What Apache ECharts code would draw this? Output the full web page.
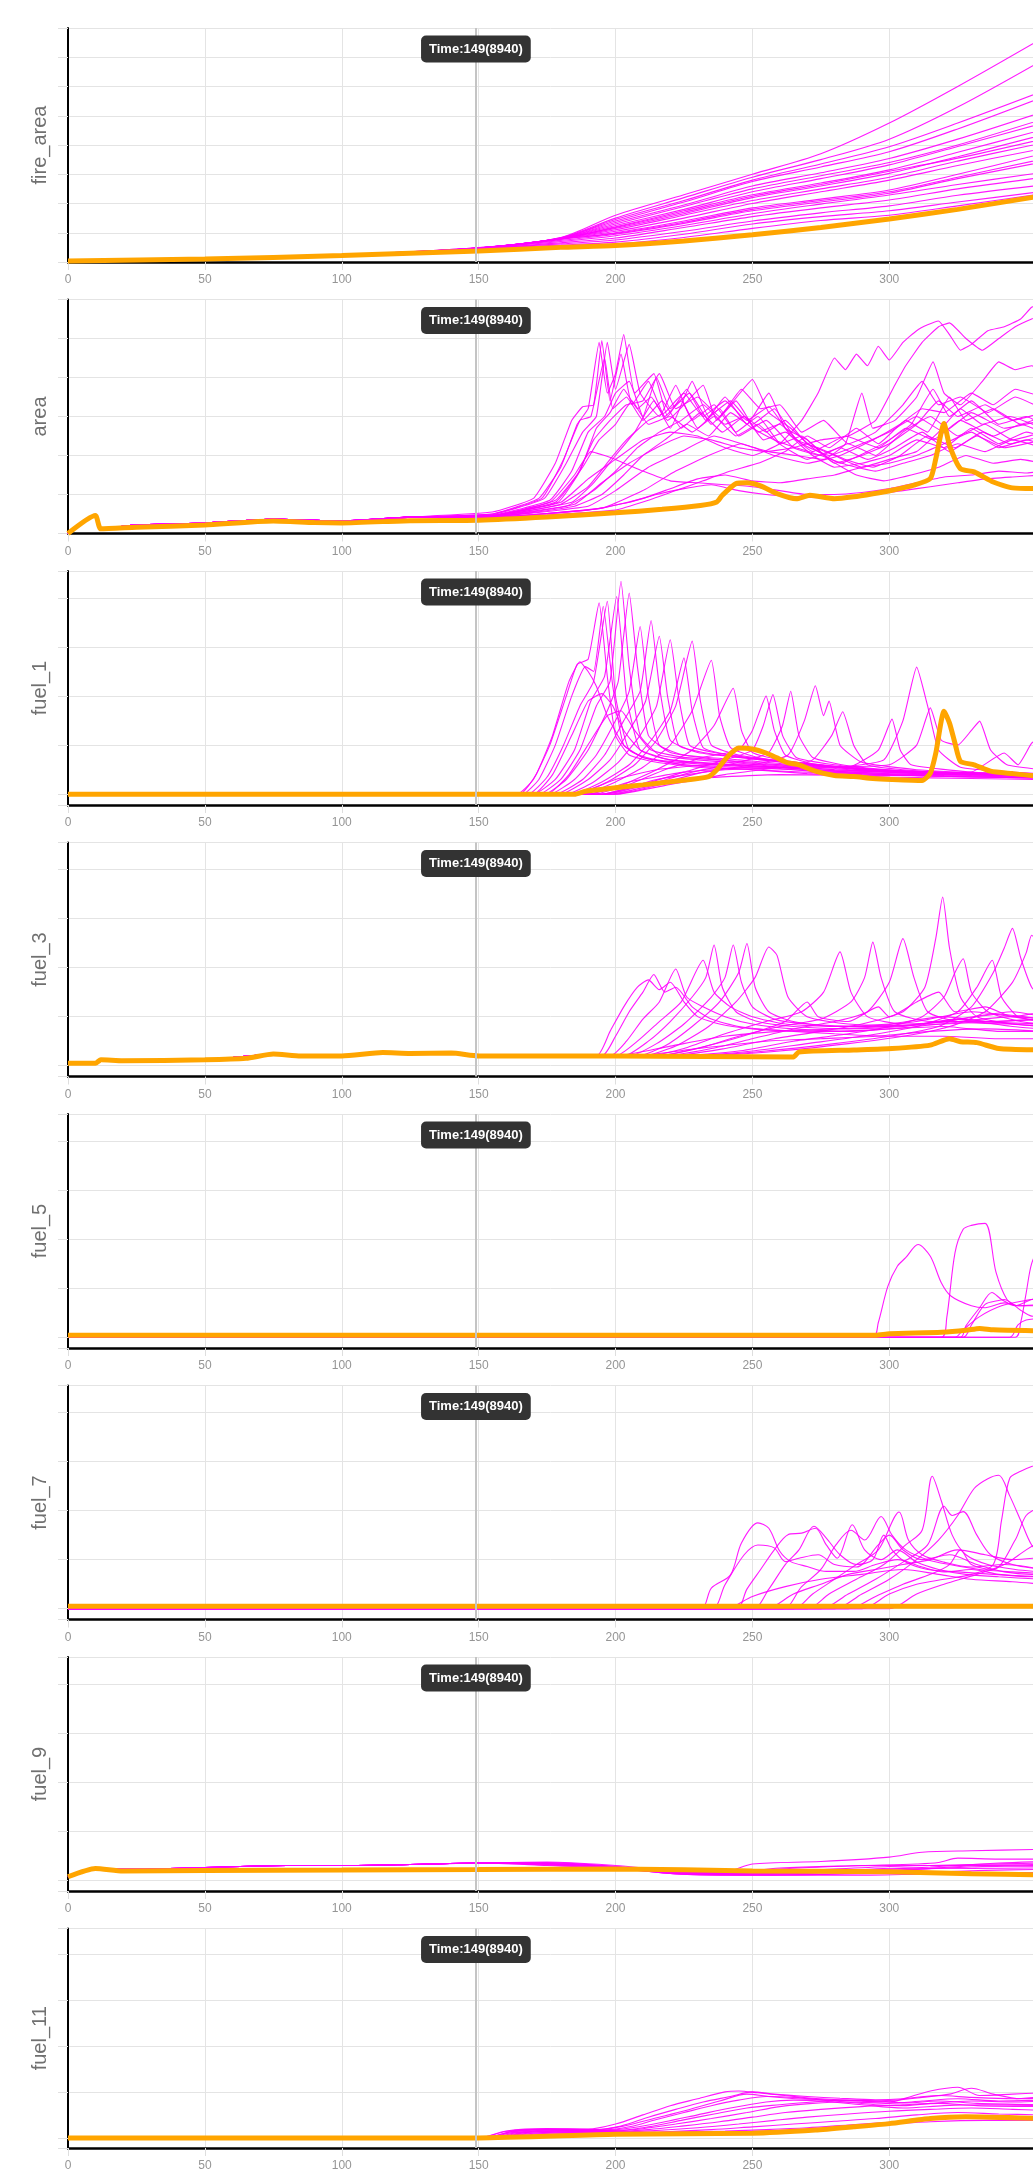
<!DOCTYPE html>
<html>
<head>
<meta charset="utf-8">
<script src="https://cdn.jsdelivr.net/npm/echarts@6/dist/echarts.min.js"></script>
<style>
html,body{margin:0;padding:0;background:#fff;overflow:hidden;}
#chart{width:1033px;height:2172px;}
</style>
</head>
<body>
<div id="chart"></div>
<script>
// ---------- labels & axes ----------
const TITLES = ['fire_area','area','fuel_1','fuel_3','fuel_5','fuel_7','fuel_9','fuel_11'];
const Y_MIN = [0, 0, -0.22, -0.22, -0.22, -0.22, -0.22, -0.22];
const Y_MAX = [8, 6, 4.55, 4.55, 4.55, 4.55, 4.55, 4.55];
const Y_SPLIT = [8, 6, 5, 5, 5, 5, 5, 5];
const X_TICKS = [0, 50, 100, 150, 200, 250, 300];
const X_MAX = 352.5;
const MARK_TIME = 149;
const MARK_LABEL = 'Time:149(8940)';

// ---------- fire_area ----------
const fireAreaT = [0,50,100,150,180,200,225,250,275,300,325,355];
const fireAreaBase = [0.03,0.1,0.22,0.38,0.5,0.56,0.72,0.93,1.18,1.47,1.8,2.25];
const fireAreaRuns = [
 [0.02,0.11,0.24,0.49,0.84,1.6,2.3,3.0,3.7,4.75,6.0,7.6],
 [0.02,0.11,0.24,0.49,0.83,1.5,2.2,2.9,3.5,4.2,5.3,6.85],
 [0.02,0.11,0.24,0.48,0.82,1.45,2.1,2.8,3.35,3.94,4.75,5.8],
 [0.02,0.11,0.24,0.48,0.82,1.4,2.05,2.75,3.25,3.77,4.55,5.6],
 [0.02,0.11,0.24,0.48,0.81,1.35,1.95,2.6,3.05,3.54,4.2,5.1],
 [0.02,0.11,0.24,0.48,0.81,1.3,1.9,2.5,2.95,3.4,4.0,4.85],
 [0.02,0.11,0.24,0.48,0.8,1.25,1.8,2.4,2.85,3.32,3.95,4.72],
 [0.02,0.11,0.24,0.48,0.8,1.2,1.75,2.3,2.7,3.15,3.75,4.5],
 [0.02,0.11,0.24,0.48,0.8,1.15,1.65,2.2,2.6,3.03,3.6,4.32],
 [0.02,0.11,0.24,0.47,0.79,1.1,1.6,2.1,2.5,2.9,3.45,4.05],
 [0.02,0.11,0.24,0.47,0.79,1.05,1.5,2.0,2.4,2.8,3.3,3.86],
 [0.02,0.11,0.24,0.47,0.78,1.0,1.4,1.85,2.15,2.46,3.0,3.68],
 [0.02,0.11,0.24,0.47,0.74,0.95,1.32,1.75,2.05,2.35,2.85,3.4],
 [0.02,0.11,0.24,0.47,0.7,0.9,1.25,1.65,1.98,2.29,2.65,3.05],
 [0.02,0.11,0.24,0.46,0.66,0.82,1.18,1.55,1.85,2.12,2.5,2.88],
 [0.02,0.11,0.24,0.46,0.62,0.75,1.05,1.4,1.68,1.92,2.28,2.62],
 [0.02,0.11,0.24,0.46,0.58,0.68,0.95,1.3,1.55,1.75,2.05,2.4],
 [0.02,0.11,0.24,0.46,0.55,0.62,0.84,1.15,1.42,1.6,1.92,2.32],
 [0.02,0.11,0.24,0.48,0.8,1.18,1.7,2.25,2.65,3.1,3.55,4.18],
 [0.02,0.11,0.24,0.47,0.78,0.98,1.36,1.8,2.1,2.4,2.9,3.5]
];

// ---------- area ----------
const areaBase = [[0,0],[10,0.46],[12,0.12],[25,0.16],[50,0.22],[75,0.32],[90,0.28],[100,0.27],[125,0.33],[150,0.34],[175,0.42],[200,0.53],[217,0.62],[231,0.72],[237,0.81],[239,0.98],[244,1.28],[248,1.3],[253,1.22],[259,1.02],[266,0.89],[271,0.98],[280,0.89],[287,0.94],[294,1.02],[301,1.11],[309,1.24],[315,1.41],[317,1.92],[320,2.82],[322,2.26],[326,1.66],[331,1.58],[338,1.32],[345,1.17],[356,1.15]];
const areaEarly = [[0,0],[10,0.46],[12,0.12],[25,0.22],[50,0.27],[75,0.37],[100,0.32],[125,0.42]];
const areaRuns = [
 [[155,0.55],[170,0.9],[178,1.8],[184,2.9],[188,3.25],[192,3.3],[195,4.95],[198,3.4],[202,4.6],[206,3.3],[212,3.9],[218,3.0],[224,3.4],[230,2.7],[238,3.2],[245,2.5],[255,2.9],[265,2.2],[275,2.0],[285,2.3],[295,2.0],[305,2.6],[315,3.0],[325,2.5],[335,2.8],[345,2.4],[356,2.6]],
 [[155,0.5],[172,0.9],[180,1.7],[186,2.8],[190,3.2],[194,4.9],[197,3.6],[200,4.1],[203,5.1],[207,3.6],[214,4.1],[219,3.0],[226,3.7],[233,2.9],[240,3.5],[248,2.8],[256,3.6],[262,2.7],[270,2.4],[280,1.8],[290,2.0],[300,2.3],[310,2.8],[318,3.4],[325,3.0],[335,3.3],[345,2.9],[356,3.1]],
 [[155,0.48],[174,0.9],[182,1.8],[188,2.6],[193,3.0],[197,4.9],[200,3.7],[205,4.85],[209,3.6],[216,3.0],[222,3.8],[228,2.9],[236,3.3],[244,2.6],[252,3.0],[260,2.3],[270,1.9],[282,2.2],[292,1.9],[302,2.2],[312,2.6],[322,2.1],[332,2.5],[342,2.2],[356,2.4]],
 [[155,0.47],[176,0.85],[184,1.6],[190,2.6],[196,3.0],[200,3.6],[205,3.9],[210,3.0],[215,4.0],[220,3.2],[227,3.6],[235,2.8],[242,3.3],[250,3.95],[256,3.1],[264,2.7],[272,2.2],[282,1.8],[292,2.1],[300,2.4],[308,2.8],[316,3.7],[322,3.0],[330,3.4],[340,2.8],[350,3.0],[356,2.8]],
 [[155,0.45],[178,0.8],[186,1.5],[192,2.4],[198,2.9],[204,3.3],[210,3.4],[216,4.1],[222,3.2],[230,3.5],[238,3.0],[246,3.7],[253,3.2],[260,3.3],[268,2.6],[276,2.9],[285,2.3],[295,2.6],[305,3.3],[312,3.9],[318,3.3],[326,3.5],[336,3.1],[346,3.5],[356,3.2]],
 [[155,0.44],[180,0.75],[190,1.2],[198,1.9],[204,2.4],[212,2.9],[218,3.1],[225,3.6],[232,3.0],[240,3.4],[248,2.9],[256,3.25],[264,2.5],[272,2.0],[280,1.7],[290,1.8],[300,2.0],[310,2.4],[320,2.2],[330,2.7],[340,2.3],[350,2.6],[356,2.5]],
 [[155,0.43],[182,0.7],[192,1.1],[200,1.6],[208,2.2],[216,2.6],[224,2.9],[232,3.3],[240,2.8],[247,3.0],[255,2.6],[262,2.9],[270,2.3],[280,2.0],[290,1.7],[300,1.9],[310,2.1],[318,2.6],[326,3.2],[334,2.8],[344,3.0],[356,2.7]],
 [[155,0.42],[185,0.7],[195,1.0],[203,1.5],[210,2.0],[218,2.4],[226,2.8],[234,2.5],[242,3.1],[250,2.7],[258,2.4],[266,2.2],[275,2.0],[285,1.75],[295,1.6],[305,1.8],[315,2.0],[325,2.3],[335,2.1],[345,2.4],[356,2.2]],
 [[155,0.45],[176,0.8],[185,1.5],[191,2.1],[200,1.9],[210,1.6],[220,1.35],[230,1.3],[240,1.25],[250,1.2],[260,1.1],[270,1.0],[280,1.0],[290,1.05],[300,1.15],[310,1.3],[320,1.45],[330,1.5],[340,1.6],[350,1.55],[356,1.6]],
 [[155,0.42],[190,0.6],[205,0.8],[215,1.0],[225,1.15],[235,1.25],[245,1.1],[255,1.0],[265,0.95],[275,0.92],[285,0.95],[295,1.0],[305,1.1],[315,1.2],[325,1.3],[335,1.4],[345,1.45],[356,1.5]],
 [[155,0.4],[195,0.65],[210,0.9],[220,1.15],[230,1.4],[240,1.5],[250,1.35],[260,1.3],[270,1.4],[280,1.5],[290,1.7],[300,1.8],[310,2.0],[320,2.3],[330,2.6],[340,2.2],[350,2.4],[356,2.3]],
 [[155,0.4],[200,0.6],[212,0.85],[222,1.1],[232,1.35],[242,1.6],[252,1.8],[262,2.1],[270,2.5],[278,2.2],[288,2.7],[296,2.3],[306,2.9],[314,2.6],[322,3.5],[328,2.9],[338,3.2],[348,2.8],[356,3.0]],
 [[155,0.45],[180,0.8],[190,1.4],[200,1.9],[210,2.4],[220,2.6],[230,2.5],[240,2.2],[250,2.0],[260,2.3],[268,2.9],[274,3.6],[280,4.5],[284,4.2],[288,4.6],[292,4.3],[296,4.8],[300,4.45],[305,4.9],[310,5.2],[314,5.35],[318,5.45],[322,5.1],[326,4.7],[330,4.85],[336,5.2],[342,5.3],[348,5.5],[352,5.8],[356,5.9]],
 [[155,0.44],[185,0.75],[195,1.3],[205,1.8],[215,2.2],[225,2.5],[235,2.4],[245,2.2],[255,2.1],[265,2.2],[275,2.4],[285,2.5],[295,2.9],[302,3.8],[306,4.3],[312,4.9],[318,5.3],[322,5.4],[328,5.0],[334,4.7],[340,5.0],[346,5.3],[352,5.5],[356,5.6]],
 [[155,0.43],[190,0.7],[200,1.1],[212,1.7],[224,2.1],[236,2.5],[246,2.3],[256,2.1],[266,2.0],[276,1.9],[284,2.3],[290,3.6],[294,2.7],[302,2.9],[310,3.5],[316,4.4],[320,3.6],[326,3.3],[334,3.9],[340,4.4],[346,4.2],[352,4.3],[356,4.2]],
 [[155,0.42],[195,0.65],[210,1.1],[222,1.6],[234,2.0],[246,2.3],[258,2.0],[270,1.8],[282,2.0],[294,2.4],[304,2.8],[312,3.2],[320,3.1],[330,3.6],[338,3.3],[346,3.7],[356,3.5]],
 [[155,0.46],[178,0.85],[188,1.7],[194,2.4],[200,2.8],[206,3.4],[212,2.8],[220,3.0],[228,2.6],[236,3.0],[244,2.5],[252,2.8],[260,2.3],[268,2.5],[278,1.9],[288,1.5],[298,1.35],[308,1.5],[318,1.7],[328,2.0],[338,1.8],[348,1.9],[356,1.8]],
 [[155,0.44],[184,0.8],[192,1.3],[200,2.0],[207,2.6],[214,3.4],[220,2.7],[228,3.9],[234,3.0],[242,3.4],[250,2.8],[258,3.2],[266,2.4],[274,2.2],[284,1.9],[294,1.7],[304,2.0],[314,2.5],[324,2.2],[334,2.6],[344,2.3],[356,2.5]],
 [[155,0.5],[173,0.9],[181,1.9],[187,2.9],[191,3.0],[196,4.5],[199,3.2],[204,3.5],[210,2.9],[217,3.4],[224,2.7],[231,3.1],[239,2.6],[247,3.0],[254,2.4],[262,2.6],[272,2.1],[284,2.5],[296,2.2],[306,2.7],[316,2.4],[326,2.9],[338,2.5],[348,2.8],[356,2.6]],
 [[155,0.46],[179,0.8],[187,1.6],[193,2.7],[198,3.1],[203,3.7],[208,3.2],[213,3.5],[219,2.9],[225,3.3],[232,3.8],[237,2.9],[244,3.4],[252,2.6],[260,2.8],[268,2.3],[278,2.0],[290,2.3],[300,2.6],[310,3.0],[320,2.6],[330,3.1],[342,2.7],[356,2.9]]
];

// ---------- fuel_1 ----------
const fuel1Base = [[0,0],[185,0],[189,0.06],[200,0.13],[210,0.19],[224,0.28],[234,0.36],[237,0.5],[241,0.77],[245,0.94],[250,0.92],[255,0.84],[259,0.74],[263,0.64],[267,0.6],[273,0.47],[280,0.38],[287,0.36],[294,0.32],[301,0.3],[312,0.28],[315,0.43],[317,0.84],[320,1.69],[322,1.45],[324,1.04],[326,0.67],[331,0.6],[337,0.47],[345,0.42],[352,0.38],[356,0.37]];
const fuel1Runs = [
 [[0,0],[164,0],[170,0.3],[176,1.0],[182,2.0],[186,2.65],[190,2.75],[194,3.9],[197,2.4],[200,1.2],[205,0.8],[215,0.65],[230,0.55],[250,0.5],[270,0.42],[300,0.35],[330,0.32],[356,0.3]],
 [[0,0],[166,0],[172,0.3],[178,1.0],[184,2.0],[189,2.6],[192,2.5],[195.5,3.83],[199,2.2],[203,1.0],[210,0.75],[225,0.6],[245,0.55],[265,0.5],[290,0.42],[320,0.36],[356,0.33]],
 [[0,0],[168,0],[175,0.35],[181,1.0],[187,1.8],[192,2.3],[197,3.93],[200,2.0],[205,0.9],[215,0.7],[235,0.6],[255,0.55],[275,0.45],[300,0.4],[330,0.35],[356,0.33]],
 [[0,0],[170,0],[178,0.3],[185,0.9],[191,1.9],[196,2.4],[200.4,4.03],[204,2.0],[209,0.9],[220,0.7],[240,0.6],[260,0.55],[285,0.45],[320,0.38],[356,0.35]],
 [[0,0],[172,0],[180,0.3],[187,0.9],[193,1.8],[198,2.3],[202,4.34],[205,2.6],[209,1.2],[216,0.8],[230,0.7],[248,0.62],[270,0.5],[300,0.42],[330,0.38],[356,0.36]],
 [[0,0],[174,0],[182,0.3],[190,0.9],[197,1.7],[201,2.3],[205,4.1],[208,2.6],[212,1.2],[220,0.85],[235,0.72],[255,0.6],[280,0.5],[310,0.42],[356,0.37]],
 [[0,0],[176,0],[185,0.3],[193,0.8],[200,1.5],[205,2.1],[209,3.42],[212,2.0],[216,1.0],[225,0.8],[245,0.7],[265,0.6],[290,0.48],[330,0.4],[356,0.38]],
 [[0,0],[178,0],[188,0.3],[196,0.8],[203,1.5],[209,2.1],[213,3.54],[216,2.2],[220,1.1],[230,0.85],[250,0.72],[270,0.6],[300,0.45],[356,0.4]],
 [[0,0],[180,0],[190,0.3],[198,0.7],[205,1.3],[211,1.9],[216,3.22],[219,2.0],[223,1.0],[232,0.85],[250,0.72],[275,0.58],[305,0.45],[356,0.4]],
 [[0,0],[182,0],[192,0.25],[201,0.65],[209,1.2],[215,1.8],[220,3.15],[223,2.0],[227,1.0],[236,0.85],[255,0.7],[280,0.55],[310,0.45],[356,0.4]],
 [[0,0],[184,0],[195,0.25],[205,0.6],[213,1.1],[220,1.7],[225,2.78],[228,1.7],[232,0.95],[242,0.8],[260,0.68],[285,0.55],[320,0.42],[356,0.4]],
 [[0,0],[185,0],[197,0.25],[207,0.6],[215,1.1],[222,1.8],[228,3.12],[231,1.9],[235,1.0],[245,0.8],[265,0.65],[290,0.52],[330,0.42],[356,0.4]],
 [[0,0],[188,0],[200,0.25],[210,0.55],[220,1.0],[228,1.7],[235,2.73],[238,1.6],[242,0.95],[252,0.75],[270,0.6],[300,0.48],[356,0.4]],
 [[0,0],[190,0],[203,0.2],[215,0.5],[228,0.9],[236,1.4],[243,2.16],[246,1.3],[250,0.85],[260,0.7],[280,0.55],[310,0.45],[356,0.4]],
 [[0,0],[192,0],[205,0.2],[218,0.5],[232,0.75],[245,0.9],[250,1.3],[255,2.0],[258,1.3],[262,0.8],[272,0.62],[290,0.5],[320,0.42],[356,0.38]],
 [[0,0],[195,0],[210,0.2],[225,0.45],[240,0.7],[250,0.9],[254,1.4],[257.5,2.03],[261,1.2],[266,0.75],[280,0.6],[305,0.45],[356,0.38]],
 [[0,0],[196,0],[212,0.2],[228,0.45],[245,0.65],[256,0.85],[261,1.4],[264,2.1],[267,1.2],[272,0.75],[285,0.58],[310,0.45],[356,0.38]],
 [[0,0],[198,0],[215,0.2],[232,0.45],[250,0.6],[263,0.8],[269,1.5],[273,2.21],[276,1.6],[278,1.9],[282,1.0],[290,0.65],[310,0.5],[340,0.42],[356,0.4]],
 [[0,0],[200,0],[220,0.2],[240,0.4],[260,0.55],[272,0.7],[279,1.2],[283,1.68],[287,1.0],[292,0.6],[305,0.5],[330,0.42],[356,0.4]],
 [[0,0],[185,0],[200,0.3],[215,0.5],[235,0.6],[260,0.6],[285,0.55],[296,0.9],[301,1.53],[304,0.9],[308,0.6],[330,0.45],[356,0.4]],
 [[0,0],[190,0],[205,0.25],[225,0.45],[250,0.55],[280,0.55],[298,0.7],[305,1.5],[310,2.59],[314,1.8],[318,0.9],[326,0.55],[345,0.45],[356,0.42]],
 [[0,0],[195,0],[215,0.3],[240,0.5],[270,0.55],[300,0.6],[310,1.0],[315,1.76],[319,1.1],[325,1.0],[330,1.3],[333,1.49],[337,0.9],[343,0.6],[356,0.5]],
 [[0,0],[200,0],[225,0.3],[260,0.4],[300,0.38],[330,0.45],[342,0.84],[347,0.6],[352,1.04],[356,1.2]],
 [[0,0],[165,0],[171,0.4],[177,1.2],[183,2.3],[187,2.7],[190,2.5],[193,2.2],[197,1.6],[203,1.0],[210,0.75],[225,0.6],[250,0.5],[290,0.4],[356,0.33]],
 [[0,0],[170,0],[177,0.4],[184,1.2],[190,1.9],[195,2.05],[199,1.8],[203,1.3],[209,0.9],[220,0.7],[245,0.6],[280,0.48],[356,0.36]],
 [[0,0],[175,0],[183,0.4],[191,1.1],[197,1.6],[202,1.7],[207,1.3],[213,0.9],[225,0.75],[250,0.65],[280,0.5],[356,0.38]]
];

// ---------- fuel_3 ----------
const fuel3Base = [[0,0.05],[10,0.05],[12,0.12],[20,0.1],[50,0.12],[65,0.15],[75,0.24],[85,0.2],[100,0.2],[115,0.27],[125,0.25],[140,0.26],[150,0.2],[200,0.2],[265,0.18],[267,0.28],[287,0.32],[301,0.35],[315,0.42],[322,0.55],[326,0.49],[332,0.47],[340,0.35],[356,0.32]];
const fuel3Early = [[0,0.05],[10,0.05],[12,0.12],[50,0.12],[75,0.24],[100,0.2],[115,0.27],[140,0.26],[160,0.2]];
const fuel3Runs = [
 [[193,0.2],[198,0.7],[203,1.2],[208,1.6],[212,1.75],[216,1.55],[220,1.7],[225,1.3],[230,1.0],[238,0.85],[250,0.75],[265,0.7],[280,0.65],[300,0.6],[320,0.6],[340,0.55],[356,0.55]],
 [[195,0.2],[200,0.6],[205,1.1],[210,1.5],[214,1.86],[218,1.5],[222,1.6],[228,1.2],[235,0.95],[245,0.8],[260,0.72],[280,0.7],[300,0.75],[320,0.8],[340,0.7],[356,0.7]],
 [[198,0.2],[204,0.5],[210,0.95],[216,1.3],[222,1.97],[226,1.4],[232,1.2],[240,1.0],[250,0.85],[265,0.75],[285,0.7],[310,0.8],[330,0.9],[345,0.8],[356,0.75]],
 [[200,0.2],[208,0.5],[216,0.9],[224,1.3],[232,2.15],[236,1.5],[242,1.2],[250,1.0],[262,0.85],[280,0.8],[300,0.85],[320,1.0],[335,0.9],[356,0.85]],
 [[203,0.2],[212,0.5],[220,0.9],[228,1.4],[233,1.8],[236,2.46],[239,1.6],[244,1.1],[252,0.9],[265,0.8],[285,0.75],[305,0.8],[325,0.95],[345,0.85],[356,0.8]],
 [[205,0.2],[215,0.45],[225,0.85],[235,1.4],[240,1.8],[243,2.46],[246,1.7],[250,1.2],[258,0.95],[270,0.85],[290,0.8],[310,0.9],[330,1.1],[345,1.0],[356,0.9]],
 [[208,0.2],[218,0.4],[228,0.8],[238,1.3],[245,1.9],[248,2.49],[251,1.6],[256,1.1],[265,0.9],[280,0.8],[300,0.8],[320,0.9],[340,1.05],[356,0.95]],
 [[210,0.2],[222,0.4],[234,0.8],[244,1.3],[251,1.8],[256,2.42],[259,2.25],[263,1.4],[270,1.0],[285,0.85],[305,0.82],[325,0.95],[345,1.1],[356,1.0]],
 [[212,0.2],[225,0.35],[240,0.65],[255,0.9],[268,1.1],[276,1.5],[282,2.32],[286,1.5],[292,1.0],[305,0.85],[325,0.9],[345,1.0],[356,0.95]],
 [[215,0.2],[230,0.35],[245,0.6],[260,0.8],[275,0.95],[286,1.3],[291,1.8],[294,2.52],[297,1.8],[302,1.1],[315,0.9],[335,0.9],[356,0.95]],
 [[218,0.2],[235,0.35],[250,0.55],[265,0.75],[280,0.9],[292,1.1],[300,1.7],[305,2.59],[309,1.8],[314,1.1],[325,0.9],[345,0.85],[356,0.85]],
 [[220,0.2],[240,0.35],[258,0.55],[275,0.7],[290,0.85],[305,1.1],[313,1.6],[317,2.6],[319.5,3.44],[322,2.4],[326,1.4],[332,1.0],[345,0.85],[356,0.8]],
 [[222,0.2],[245,0.3],[265,0.5],[285,0.65],[300,0.8],[312,1.0],[320,1.4],[324,1.9],[327,2.18],[330,1.5],[336,1.1],[348,0.9],[356,0.85]],
 [[225,0.2],[250,0.3],[270,0.45],[290,0.6],[310,0.8],[325,1.1],[332,1.6],[337.6,2.15],[341,1.4],[347,1.0],[356,0.9]],
 [[228,0.2],[255,0.3],[280,0.45],[300,0.6],[318,0.8],[330,1.2],[338,1.9],[342,2.4],[345,2.8],[348,2.2],[352,1.6],[356,1.4]],
 [[230,0.2],[260,0.3],[285,0.45],[305,0.6],[322,0.8],[335,1.1],[345,1.7],[350,2.3],[352,2.66],[356,2.3]],
 [[200,0.2],[220,0.4],[240,0.6],[260,0.7],[280,0.75],[300,0.8],[320,0.85],[340,0.9],[356,0.95]],
 [[206,0.2],[230,0.35],[255,0.5],[275,0.55],[295,0.6],[315,0.7],[335,0.75],[356,0.7]],
 [[214,0.2],[240,0.5],[262,0.9],[270,1.3],[274,1.0],[285,0.9],[296,1.2],[300,1.0],[310,1.3],[318,1.5],[324,1.1],[335,1.2],[345,1.0],[356,1.1]]
];

// ---------- fuel_5 ----------
const fuel5Base = [[0,0.04],[295,0.04],[300,0.07],[319,0.1],[328,0.14],[333,0.18],[338,0.15],[356,0.13]];
const fuel5Runs = [
 [[0,0],[294,0],[296,0.3],[299.5,1.04],[303,1.45],[306,1.62],[310.5,1.89],[315,1.65],[319,1.11],[322.5,0.84],[330,0.64],[335,0.6],[342,0.7],[347,0.64],[356,0.64]],
 [[0,0],[319,0],[321,0.4],[324,1.72],[327,2.2],[330,2.28],[335,2.32],[339,1.32],[343,0.77],[347,0.64],[356,0.67]],
 [[0,0],[326,0],[328,0.23],[333,0.6],[337.5,0.91],[341,0.77],[346,0.64],[352,0.77],[356,0.8]],
 [[0,0],[327,0],[330,0.25],[335,0.67],[340,0.75],[342,0.77],[348,0.55],[352,0.43],[356,0.42]],
 [[0,0],[346,0],[348,0.3],[350,0.9],[352,1.5],[356,2.0]],
 [[0,0],[344,0],[347,0.25],[350,0.35],[356,0.38]],
 [[0,0],[324,0],[327,0.15],[333,0.42],[341,0.64],[350,0.75],[356,0.8]]
];

// ---------- fuel_7 ----------
const fuel7Base = [[0,0.05],[356,0.05]];
const fuel7Runs = [
 [[0,0],[231,0],[235,0.42],[242,0.69],[246,1.34],[252,1.75],[256,1.64],[260,1.17],[264,0.96],[270,0.86],[277,0.76],[287,0.76],[295,0.9],[303,1.0],[312,0.85],[320,0.75],[330,0.8],[340,0.7],[352,0.65],[356,0.65]],
 [[0,0],[235,0],[240,0.49],[247,1.1],[252,1.3],[258,1.24],[262,0.96],[267,1.03],[274,1.1],[280,0.9],[288,0.85],[296,1.3],[300,1.5],[305,1.2],[312,1.0],[322,1.1],[332,0.9],[342,0.75],[352,0.7],[356,0.7]],
 [[0,0],[244,0],[248,0.4],[253,0.8],[258,1.2],[263,1.51],[268,1.54],[273,1.64],[277,1.3],[281,1.03],[286.5,1.71],[291,1.2],[297,1.0],[303,1.2],[310,0.95],[318,0.8],[328,0.7],[340,0.65],[356,0.6]],
 [[0,0],[250,0],[256,0.4],[262,0.9],[267,1.2],[272.5,1.68],[277,1.44],[282,1.1],[288,0.9],[294,1.0],[298,1.5],[301,1.2],[306,0.95],[314,0.8],[325,0.75],[338,0.7],[356,0.65]],
 [[0,0],[261,0],[268,0.45],[275,0.8],[280.5,1.3],[286,1.6],[291,1.4],[297,1.88],[301,1.5],[306,1.2],[314,1.0],[322,0.9],[333,0.8],[345,0.75],[356,0.72]],
 [[0,0],[265,0],[272,0.3],[280,0.6],[288,0.9],[296,1.2],[303.6,1.97],[307,1.4],[312,1.1],[320,0.95],[330,0.85],[342,0.9],[356,0.8]],
 [[0,0],[270,0],[278,0.3],[288,0.6],[298,0.9],[306,1.3],[312,1.6],[315.7,2.7],[319,2.2],[323,1.5],[328,1.1],[336,0.9],[346,0.8],[356,0.75]],
 [[0,0],[275,0],[285,0.3],[295,0.6],[305,0.95],[314,1.3],[320,2.09],[323,1.9],[327,1.98],[332,1.5],[337,1.1],[345,0.9],[356,0.8]],
 [[0,0],[280,0],[290,0.3],[300,0.6],[310,1.0],[318,1.4],[325,1.9],[331,2.45],[336,2.65],[340,2.72],[344,2.3],[348,1.8],[352,1.3],[356,1.1]],
 [[0,0],[290,0],[300,0.3],[310,0.5],[320,0.6],[330,0.7],[338,0.9],[341,1.8],[344,2.66],[348,2.8],[352,2.9],[356,2.95]],
 [[0,0],[285,0],[295,0.25],[305,0.5],[315,0.7],[322,0.9],[326,1.2],[330,0.9],[338,0.8],[346,1.4],[350,1.9],[356,2.1]],
 [[0,0],[255,0],[265,0.3],[275,0.5],[285,0.7],[295,0.8],[305,0.9],[315,1.0],[325,1.2],[335,1.1],[345,1.0],[356,1.05]],
 [[0,0],[240,0],[250,0.25],[262,0.45],[275,0.6],[290,0.7],[305,0.8],[318,0.7],[330,0.6],[345,0.55],[356,0.5]],
 [[0,0],[300,0],[310,0.3],[320,0.5],[332,0.7],[342,0.9],[350,1.2],[356,1.4]]
];

// ---------- fuel_9 ----------
const fuel9Base = [[0,0.07],[10,0.24],[20,0.19],[50,0.2],[100,0.21],[150,0.22],[200,0.23],[250,0.19],[300,0.17],[330,0.13],[356,0.11]];
const fuel9Early = [[0,0.07],[10,0.24],[20,0.22],[50,0.26],[80,0.3],[100,0.3],[125,0.32],[150,0.35]];
const fuel9Runs = [
 [[175,0.37],[200,0.3],[220,0.2],[240,0.17],[250,0.33],[275,0.38],[300,0.47],[312,0.57],[330,0.6],[356,0.63]],
 [[175,0.36],[200,0.28],[220,0.18],[240,0.15],[260,0.25],[290,0.3],[310,0.33],[318,0.36],[325,0.45],[340,0.43],[356,0.43]],
 [[175,0.34],[200,0.27],[220,0.17],[245,0.14],[270,0.2],[300,0.28],[330,0.32],[356,0.35]],
 [[175,0.33],[200,0.26],[220,0.15],[245,0.12],[270,0.14],[300,0.2],[330,0.27],[356,0.3]],
 [[175,0.32],[200,0.25],[220,0.14],[250,0.11],[280,0.13],[310,0.22],[335,0.3],[356,0.28]],
 [[175,0.35],[200,0.28],[220,0.16],[245,0.13],[275,0.17],[305,0.25],[330,0.24],[356,0.25]],
 [[175,0.3],[200,0.24],[222,0.13],[250,0.1],[280,0.12],[310,0.15],[335,0.2],[356,0.22]],
 [[175,0.33],[200,0.27],[225,0.15],[255,0.13],[285,0.18],[315,0.27],[340,0.35],[356,0.38]],
 [[175,0.31],[200,0.25],[225,0.12],[255,0.1],[285,0.1],[315,0.13],[340,0.15],[356,0.16]],
 [[175,0.34],[200,0.27],[225,0.14],[250,0.2],[275,0.27],[300,0.3],[325,0.3],[356,0.32]]
];

// ---------- fuel_11 ----------
const fuel11Base = [[0,0],[150,0],[200,0.08],[250,0.1],[273,0.17],[287,0.24],[300,0.31],[315,0.42],[328,0.46],[356,0.42]];
const fuel11Runs = [
 [[0,0],[150,0],[160,0.15],[175,0.2],[190,0.19],[200,0.3],[210,0.5],[220,0.7],[230,0.85],[240,1.0],[245,1.02],[252,0.98],[262,0.92],[275,0.85],[290,0.8],[300,0.78],[308,0.9],[315,1.02],[325,1.1],[333,0.92],[345,0.95],[356,0.98]],
 [[0,0],[150,0],[160,0.14],[175,0.19],[192,0.18],[202,0.26],[212,0.45],[222,0.62],[232,0.78],[242,0.9],[250,1.0],[258,0.95],[270,0.9],[282,0.86],[295,0.83],[305,0.85],[318,0.92],[330,0.88],[345,0.85],[356,0.9]],
 [[0,0],[152,0],[162,0.13],[178,0.18],[195,0.17],[205,0.24],[215,0.4],[225,0.55],[235,0.7],[245,0.82],[255,0.9],[265,0.88],[280,0.8],[295,0.72],[305,0.7],[315,0.75],[330,0.8],[345,0.78],[356,0.8]],
 [[0,0],[152,0],[163,0.12],[180,0.17],[196,0.16],[206,0.22],[218,0.35],[230,0.5],[242,0.65],[255,0.78],[265,0.82],[275,0.8],[290,0.72],[305,0.65],[320,0.7],[335,0.72],[356,0.7]],
 [[0,0],[153,0],[165,0.12],[182,0.16],[198,0.15],[210,0.2],[222,0.3],[235,0.42],[248,0.55],[260,0.68],[272,0.75],[285,0.78],[300,0.75],[312,0.8],[325,0.85],[340,0.8],[356,0.82]],
 [[0,0],[154,0],[166,0.11],[184,0.15],[200,0.14],[212,0.18],[225,0.26],[238,0.35],[250,0.45],[262,0.55],[275,0.62],[290,0.68],[305,0.72],[318,0.75],[332,0.7],[356,0.68]],
 [[0,0],[155,0],[168,0.1],[186,0.14],[202,0.13],[215,0.16],[230,0.22],[245,0.3],[258,0.38],[270,0.45],[285,0.52],[300,0.58],[315,0.62],[330,0.65],[345,0.62],[356,0.6]],
 [[0,0],[156,0],[170,0.1],[188,0.13],[205,0.12],[220,0.14],[235,0.18],[250,0.24],[265,0.3],[280,0.36],[295,0.42],[310,0.5],[325,0.55],[340,0.52],[356,0.5]],
 [[0,0],[157,0],[172,0.09],[190,0.12],[208,0.11],[225,0.13],[240,0.15],[255,0.18],[270,0.22],[285,0.28],[300,0.34],[315,0.4],[330,0.45],[356,0.44]],
 [[0,0],[152,0],[162,0.14],[178,0.19],[194,0.18],[204,0.27],[214,0.42],[226,0.6],[238,0.8],[248,0.95],[256,0.9],[266,0.85],[280,0.82],[292,0.8],[302,0.82],[312,0.88],[322,0.95],[330,1.08],[338,0.95],[348,0.85],[356,0.87]],
 [[0,0],[155,0],[168,0.12],[185,0.16],[200,0.16],[212,0.24],[224,0.38],[236,0.52],[248,0.65],[260,0.72],[272,0.78],[284,0.82],[296,0.8],[306,0.76],[318,0.8],[332,0.75],[356,0.72]],
 [[0,0],[160,0],[175,0.08],[195,0.1],[215,0.1],[235,0.12],[255,0.15],[275,0.2],[295,0.28],[315,0.35],[335,0.38],[356,0.38]]
];

// ---------- assemble ----------
const zipT = (T, ys) => ys.map((v, i) => [T[i], v]);
const panels = [
  { runs: fireAreaRuns.map(r => zipT(fireAreaT, r)), base: zipT(fireAreaT, fireAreaBase), smooth: 0.3 },
  { runs: areaRuns.map(r => areaEarly.concat(r)), base: areaBase, smooth: 0.12 },
  { runs: fuel1Runs, base: fuel1Base, smooth: 0.15 },
  { runs: fuel3Runs.map(r => fuel3Early.concat(r)), base: fuel3Base, smooth: 0.2 },
  { runs: fuel5Runs, base: fuel5Base, smooth: 0.3 },
  { runs: fuel7Runs, base: fuel7Base, smooth: 0.3 },
  { runs: fuel9Runs.map(r => fuel9Early.concat(r)), base: fuel9Base, smooth: 0.3 },
  { runs: fuel11Runs, base: fuel11Base, smooth: 0.3 }
];

const FONT = '"Liberation Sans", Arial, Helvetica, sans-serif';
const PANEL_H = 271.5;
const grids = [], xAxes = [], yAxes = [], series = [];

panels.forEach((p, i) => {
  grids.push({ left: 68, right: 0, top: 28 + i * PANEL_H, height: 234 });
  xAxes.push({
    type: 'value', gridIndex: i, min: 0, max: X_MAX,
    axisLine: { show: true, onZero: false, lineStyle: { color: '#000', width: 2.5 } },
    axisTick: { show: true, customValues: X_TICKS, length: 8, lineStyle: { color: '#dedede' } },
    axisLabel: { show: true, customValues: X_TICKS, color: '#959595', fontSize: 12, margin: 12, fontFamily: FONT },
    splitLine: { show: true, lineStyle: { color: '#e4e4e4', width: 1 } }
  });
  yAxes.push({
    type: 'value', gridIndex: i, min: Y_MIN[i], max: Y_MAX[i], splitNumber: Y_SPLIT[i],
    name: TITLES[i], nameLocation: 'middle', nameGap: 18,
    nameTextStyle: { color: '#707070', fontSize: 20, fontFamily: FONT },
    axisLine: { show: true, onZero: false, lineStyle: { color: '#000', width: 2 } },
    axisTick: { show: true, length: 10, lineStyle: { color: '#e0e0e0' } },
    axisLabel: { show: false },
    splitLine: { show: true, lineStyle: { color: '#e4e4e4', width: 1 } }
  });
  p.runs.forEach(run => {
    series.push({
      type: 'line', xAxisIndex: i, yAxisIndex: i, data: run,
      showSymbol: false, symbol: 'none', smooth: p.smooth, silent: true, z: 2,
      lineStyle: { color: '#ff00ff', width: 1.1, opacity: 0.9 }
    });
  });
  series.push({
    type: 'line', xAxisIndex: i, yAxisIndex: i, data: p.base,
    showSymbol: false, symbol: 'none', smooth: 0.2, silent: true, z: 3,
    lineStyle: { color: '#ffa500', width: 5 }
  });
  series.push({
    type: 'line', xAxisIndex: i, yAxisIndex: i, data: [], silent: true, z: 5,
    markLine: {
      silent: true, symbol: ['none', 'none'], animation: false,
      label: { show: false },
      lineStyle: { color: '#c4c4c4', width: 2, type: 'solid' },
      data: [{ xAxis: MARK_TIME }]
    },
    markPoint: {
      silent: true, symbol: 'rect', symbolSize: 1, animation: false,
      itemStyle: { color: 'rgba(0,0,0,0)' },
      label: {
        show: true, position: 'bottom', distance: 7, formatter: MARK_LABEL,
        color: '#fff', fontWeight: 'bold', fontSize: 13, fontFamily: FONT,
        backgroundColor: '#333', borderRadius: 5, padding: [7, 8]
      },
      data: [{ coord: [MARK_TIME, Y_MAX[i] - 0.001] }]
    }
  });
});

const chart = echarts.init(document.getElementById('chart'), null, { renderer: 'canvas' });
chart.setOption({
  animation: false,
  backgroundColor: '#fff',
  grid: grids, xAxis: xAxes, yAxis: yAxes, series: series
});
</script>
</body>
</html>
